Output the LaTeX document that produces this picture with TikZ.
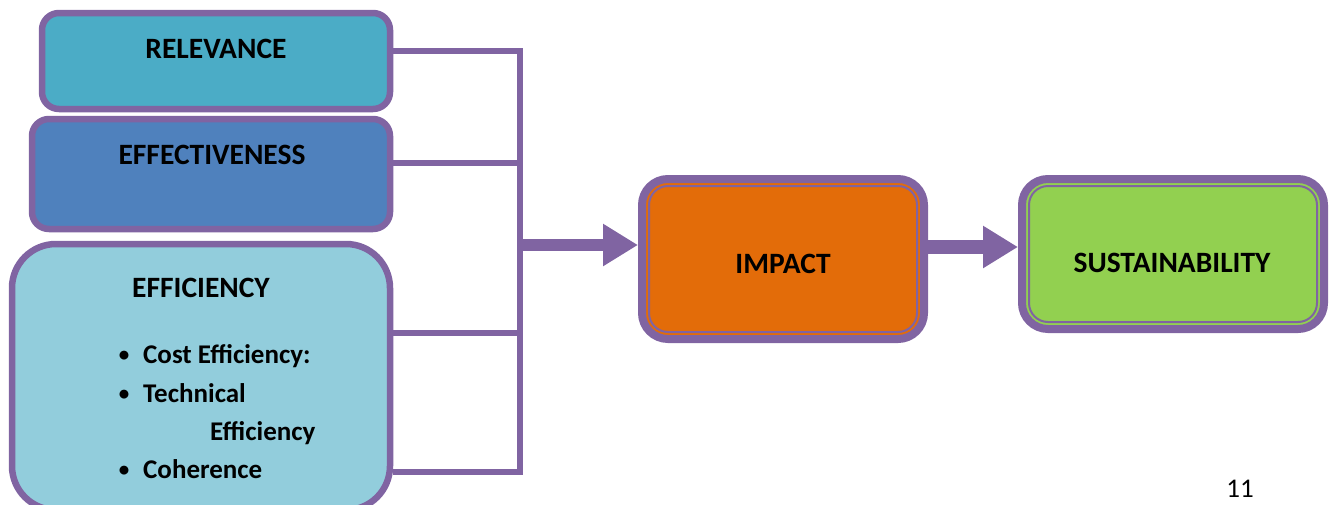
\documentclass[tikz,border=0pt]{standalone}
\usepackage{fontspec}
\setmainfont{Carlito}
\usetikzlibrary{arrows.meta}
\definecolor{vio}{HTML}{8064A2}
\definecolor{relc}{HTML}{4BACC6}
\definecolor{effc}{HTML}{4F81BD}
\definecolor{efic}{HTML}{92CDDC}
\definecolor{impc}{HTML}{E36C09}
\definecolor{susc}{HTML}{92D050}
\tikzset{
  box/.style={draw=vio, rectangle, inner sep=0pt},
  lbl/.style={anchor=base, inner sep=0pt, font=\fontsize{29.5}{34}\selectfont\bfseries},
  itm/.style={anchor=base west, inner sep=0pt, font=\fontsize{27}{32}\selectfont\bfseries},
  bul/.style={anchor=base, inner sep=0pt, font=\fontsize{21}{25}\selectfont\bfseries},
  conn/.style={draw=vio, line width=6pt, line join=miter},
  fat/.style={draw=vio, -{Triangle[length=35pt,width=40pt]}},
  innerline/.style={draw=vio, line width=2pt}
}
\begin{document}
\begin{tikzpicture}[x=1pt,y=-1pt]
\useasboundingbox (0,0) rectangle (1331,504);
% boxes
\node[box, line width=6.5pt, fill=relc, rounded corners=17pt, minimum width=348pt, minimum height=96pt] (rel) at (216,61) {};
\node[box, line width=6.5pt, fill=effc, rounded corners=17pt, minimum width=358pt, minimum height=110pt] (effe) at (211,174) {};
\node[box, line width=6.5pt, fill=efic, rounded corners=44pt, minimum width=378pt, minimum height=266pt] (effi) at (201,377) {};
\node[box, line width=8pt, fill=impc, rounded corners=26pt, minimum width=282pt, minimum height=160pt] (imp) at (783,259) {};
\node[box, line width=8pt, fill=susc, rounded corners=26pt, minimum width=302pt, minimum height=150pt] (sus) at (1173,254) {};
\draw[innerline, rounded corners=19pt] ([shift={(11,11)}]imp.north west) rectangle ([shift={(-11,-11)}]imp.south east);
\draw[innerline, rounded corners=19pt] ([shift={(11,11)}]sus.north west) rectangle ([shift={(-11,-11)}]sus.south east);
% labels
\node[lbl] (trel) at (216,58) {RELEVANCE};
\node[lbl] (teffe) at (212,164) {EFFECTIVENESS};
\node[lbl] (teffi) at (201,297) {EFFICIENCY};
\node[lbl] (timp) at (783,273) {IMPACT};
\node[lbl] (tsus) at (1172,272) {SUSTAINABILITY};
\node[bul] (b1) at (124,361) {•};
\node[bul] (b2) at (124,400) {•};
\node[bul] (b3) at (124,476) {•};
\node[itm] (i1) at (143,363) {Cost Efficiency:};
\node[itm] (i2) at (143,402) {Technical};
\node[itm] (i2b) at (210,440) {Efficiency};
\node[itm] (i3) at (143,478) {Coherence};
\node[anchor=base, inner sep=0pt, font=\fontsize{27}{32}\selectfont] (pg) at (1240,497) {11};
% connectors
\coordinate (jTop) at (520,51);
\coordinate (j2) at (520,163);
\coordinate (j3) at (520,333);
\coordinate (jBot) at (520,472);
\coordinate (jA) at (520,245);
\coordinate (aY) at (0,247);
\draw[conn] (rel.east |- jTop) -- (jTop) -- (jBot) -- (effi.east |- jBot);
\draw[conn] (effe.east |- j2) -- (j2);
\draw[conn] (effi.east |- j3) -- (j3);
\draw[fat, line width=12pt] (jA) -- (imp.west |- jA);
\draw[fat, line width=14pt] (imp.east |- aY) -- (sus.west |- aY);
\end{tikzpicture}
\end{document}
